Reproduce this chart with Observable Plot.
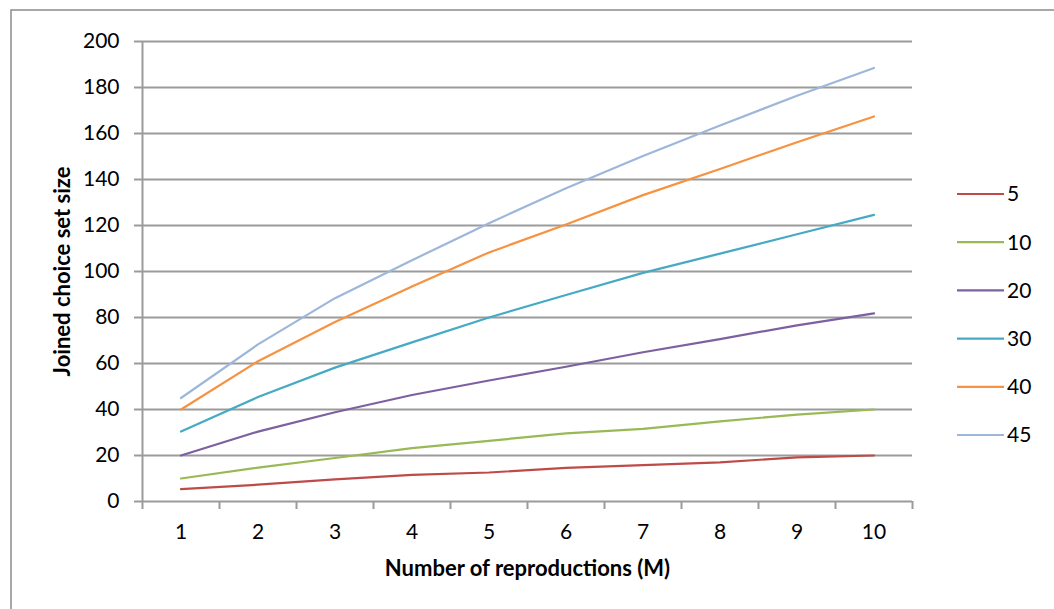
<!DOCTYPE html>
<html><head><meta charset="utf-8">
<script src="https://cdn.jsdelivr.net/npm/d3@7"></script>
<script src="https://cdn.jsdelivr.net/npm/@observablehq/plot@0.6"></script>
<style>
body{margin:0;background:#fff}
#chart{position:relative;width:1054px;height:609px;overflow:hidden}
</style>
</head><body><div id="chart"></div>
<script>
const reproductions = [1, 2, 3, 4, 5, 6, 7, 8, 9, 10];
const seriesNames = ["5", "10", "20", "30", "40", "45"];
const s5  = [5.4, 7.3, 9.6, 11.6, 12.6, 14.6, 15.8, 17.0, 19.2, 20.0];
const s10 = [10.0, 14.7, 18.9, 23.2, 26.4, 29.6, 31.6, 34.8, 37.8, 40.0];
const s20 = [20.0, 30.4, 38.8, 46.3, 52.6, 58.6, 64.9, 70.6, 76.6, 81.8];
const s30 = [30.4, 45.4, 58.2, 69.2, 80.0, 89.8, 99.4, 107.8, 116.2, 124.6];
const s40 = [40.0, 61.0, 78.0, 93.5, 108.3, 120.4, 133.2, 144.6, 156.2, 167.4];
const s45 = [45.0, 68.3, 88.4, 104.9, 121.0, 136.2, 150.2, 163.5, 176.4, 188.5];
const seriesColors = ["#BE4B48", "#98B954", "#7D60A0", "#46AAC5", "#F69240", "#9DB7DB"];
const yTicks = [0, 20, 40, 60, 80, 100, 120, 140, 160, 180, 200];
const xBoundaries = [0.5, 1.5, 2.5, 3.5, 4.5, 5.5, 6.5, 7.5, 8.5, 9.5, 10.5];
const xTitle = "Number of reproductions (M)";
const yTitle = "Joined choice set size";

const allSeries = [s5, s10, s20, s30, s40, s45];
const data = seriesNames.flatMap((name, i) =>
  allSeries[i].map((v, j) => ({m: reproductions[j], value: v, series: name})));

const gray = "#9b9b9b";
const font = "Lato, 'Open Sans', sans-serif";

const chart = Plot.plot({
  width: 1054, height: 609,
  marginLeft: 142, marginRight: 142, marginTop: 41, marginBottom: 108,
  style: {fontFamily: font, fontSize: "21px", color: "#000", background: "#fff", overflow: "visible"},
  x: {type: "linear", domain: [0.5, 10.5], axis: null},
  y: {domain: [0, 200], axis: null},
  color: {domain: seriesNames, range: seriesColors},
  marks: [
    Plot.ruleY(yTicks, {x1: 0.5, x2: 10.5, stroke: gray, strokeWidth: 2}),
    Plot.ruleX([0.5], {y1: 0, y2: 200, stroke: gray, strokeWidth: 2}),
    Plot.axisY(yTicks, {anchor: "left", tickSize: 8, tickPadding: 15, stroke: gray, strokeWidth: 2, fill: "#000", fontSize: 21, label: null}),
    Plot.axisX(xBoundaries, {anchor: "bottom", tickSize: 8, stroke: gray, strokeWidth: 2, tickFormat: () => "", label: null}),
    Plot.axisX(reproductions, {anchor: "bottom", tickSize: 0, tickPadding: 23, fill: "#000", fontSize: 21, label: null}),
    Plot.line(data, {x: "m", y: "value", stroke: "series", strokeWidth: 2.2}),
    Plot.text([xTitle], {frameAnchor: "bottom", dy: 74, fontWeight: "bold", fontSize: 22, fill: "#000"}),
    Plot.text([yTitle], {frameAnchor: "left", textAnchor: "middle", dx: -80, rotate: -90, fontWeight: "bold", fontSize: 22, fill: "#000"})
  ]
});

const svg = d3.select(chart);
svg.insert("rect", ":first-child")
  .attr("x", 11).attr("y", 10).attr("width", 1100).attr("height", 700)
  .attr("fill", "none").attr("stroke", "#8c8c8c").attr("stroke-width", 1.5);

const legend = svg.append("g").attr("font-family", font).attr("font-size", 21).attr("text-anchor", "start");
seriesNames.forEach((name, i) => {
  const y = 194 + i * 48.2;
  legend.append("line").attr("x1", 957).attr("x2", 1004).attr("y1", y).attr("y2", y)
    .attr("stroke", seriesColors[i]).attr("stroke-width", 2.2);
  legend.append("text").attr("x", 1007).attr("y", y).attr("dy", "0.35em").attr("fill", "#000").text(name);
});

document.getElementById("chart").appendChild(chart);
</script>
</body></html>
